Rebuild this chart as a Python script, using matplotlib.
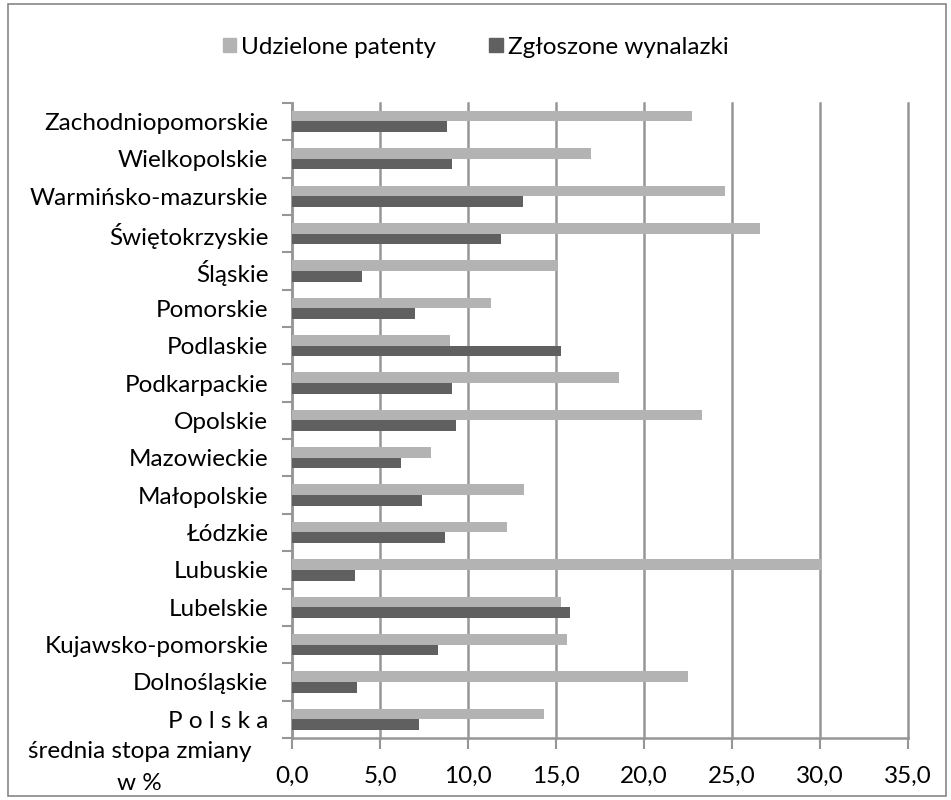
import numpy as np
import matplotlib.pyplot as plt
from matplotlib.patches import Rectangle, Patch

plt.rcParams['font.family'] = ['Lato', 'DejaVu Sans']

# województwa od góry do dołu
regions = ['Zachodniopomorskie', 'Wielkopolskie', 'Warmińsko-mazurskie',
           'Świętokrzyskie', 'Śląskie', 'Pomorskie', 'Podlaskie',
           'Podkarpackie', 'Opolskie', 'Mazowieckie', 'Małopolskie',
           'Łódzkie', 'Lubuskie', 'Lubelskie', 'Kujawsko-pomorskie',
           'Dolnośląskie', 'P o l s k a']

# średnia stopa zmiany w %
patenty = [22.7, 17.0, 24.6, 26.6, 15.1, 11.3, 9.0, 18.6, 23.3, 7.9,
           13.2, 12.2, 30.1, 15.3, 15.6, 22.5, 14.3]
wynalazki = [8.8, 9.1, 13.1, 11.9, 4.0, 7.0, 15.3, 9.1, 9.3, 6.2,
             7.4, 8.7, 3.6, 15.8, 8.3, 3.7, 7.2]

x_ticks = [0, 5, 10, 15, 20, 25, 30, 35]
x_labels = ['0,0', '5,0', '10,0', '15,0', '20,0', '25,0', '30,0', '35,0']

light = '#b3b3b3'
dark = '#606060'
grid_col = '#969696'
fs = 17.5

fig = plt.figure(figsize=(9.51, 8), dpi=100)
ax = fig.add_axes([0.307, 0.0775, 0.648, 0.794])

n = len(regions)
pos = np.arange(n)[::-1]
h = 0.285
ax.barh(pos + h / 2, patenty, height=h, color=light, zorder=3)
ax.barh(pos - h / 2, wynalazki, height=h, color=dark, zorder=3)

ax.set_xlim(0, 35)
ax.set_ylim(-0.5, n - 0.5)

ax.set_xticks(x_ticks)
ax.set_xticklabels(x_labels, fontsize=fs)
ax.xaxis.grid(True, color=grid_col, lw=1.8, zorder=0)
for gl in ax.get_xgridlines():
    gl.set_clip_on(False)
ax.tick_params(axis='x', length=8, width=1.5, color=grid_col, pad=12)

# kreski między kategoriami, etykiety na środku
ax.set_yticks(np.arange(-0.5, n, 1.0))
ax.set_yticklabels([])
ax.set_yticks(pos, minor=True)
ax.set_yticklabels(regions, minor=True, fontsize=fs)
ax.tick_params(axis='y', which='major', length=7, width=1.5, color=grid_col)
ax.tick_params(axis='y', which='minor', length=0, pad=17)

for side in ['top', 'right']:
    ax.spines[side].set_visible(False)
for side in ['left', 'bottom']:
    ax.spines[side].set_color(grid_col)
    ax.spines[side].set_linewidth(1.8)

fig.text(0.147, 0.041, 'średnia stopa zmiany\nw %', ha='center', va='center',
         fontsize=fs, linespacing=1.65)

handles = [Patch(color=light), Patch(color=dark)]
fig.legend(handles, ['Udzielone patenty', 'Zgłoszone wynalazki'],
           loc='center', bbox_to_anchor=(0.5, 0.941), ncol=2, frameon=False,
           fontsize=fs, handlelength=0.55, handleheight=0.55,
           handletextpad=0.2, columnspacing=2.2)

fig.patches.append(Rectangle((0.008, 0.005), 0.987, 0.99, transform=fig.transFigure,
                             fill=False, edgecolor='#868686', lw=1.2))

fig.savefig('out.png', dpi=100)
